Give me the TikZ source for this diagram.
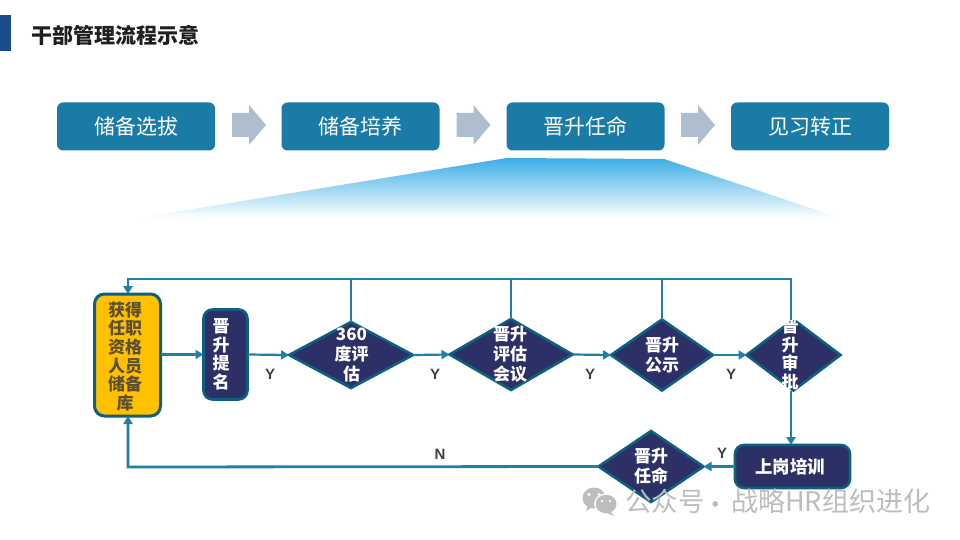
\documentclass[tikz,border=0pt]{standalone}
\usepackage{fontspec}
\setmainfont{Noto Sans CJK SC}
\newfontfamily\latinbold{Liberation Sans}
\usetikzlibrary{shapes.geometric,arrows.meta}
\definecolor{flow}{HTML}{1F7FA8}
\definecolor{edgeb}{HTML}{0F5F7F}
\definecolor{navy}{HTML}{2C3066}
\definecolor{topbox}{HTML}{1A7CA6}
\definecolor{wm}{HTML}{BDBDBD}
\definecolor{arrowgrey}{HTML}{ADBFCF}
\definecolor{pooltext}{HTML}{5C5030}
\tikzset{
  topstage/.style={rectangle,rounded corners=6,fill=topbox,minimum width=158,minimum height=48,inner sep=0,outer sep=0,text=white,font=\fontsize{21}{24}\selectfont},
  dia/.style={diamond,draw=edgeb,fill=navy,line width=2.6,inner sep=0,outer sep=0},
  rbox/.style={rectangle,rounded corners=9,draw=edgeb,fill=navy,line width=2.6,inner sep=0,outer sep=0,text=white,align=center},
  dtext/.style={text=white,align=center,inner sep=0,font=\fontsize{17}{20}\selectfont\bfseries},
  vtext/.style={text=white,align=center,inner sep=0,font=\fontsize{17}{18.5}\selectfont\bfseries},
  flowline/.style={draw=flow,line width=2.2},
  flowarrow/.style={flowline,-{Triangle[length=8,width=9]}},
  ylab/.style={text=black!75,inner sep=0,font=\fontsize{15}{15}\selectfont\latinbold\bfseries},
  wmark/.style={inner sep=0,text=wm,font=\fontsize{26.5}{28}\selectfont},
}
\begin{document}
\begin{tikzpicture}[x=1pt,y=-1pt]
\useasboundingbox (0,0) rectangle (960,540);
\fill[white] (0,0) rectangle (960,540);
\fill[fill={rgb,255:red,27;green,75;blue,138}] (0,15) rectangle (11,51);
\node[inner sep=0,font=\fontsize{21}{24}\selectfont\bfseries,text=black!88] (title) at (115.5,35) {干部管理流程示意};
% top stages
\node[topstage] (s1) at (136,126.5) {储备选拔\hspace{10pt}};
\node[topstage] (s2) at (360.5,126.5) {储备培养};
\node[topstage] (s3) at (585.5,126.5) {晋升任命};
\node[topstage] (s4) at (810,126.5) {见习转正};
\foreach \x in {232,456.5,681}{
  \fill[arrowgrey] (\x,113) -- (\x+17,113) -- (\x+17,105) -- (\x+34,125) -- (\x+17,145) -- (\x+17,137) -- (\x,137) -- cycle;
}
\shade[top color={rgb,255:red,59;green,174;blue,229},bottom color=white] (507,158) -- (664,159) -- (840,218) -- (138,218) -- cycle;
% flow shapes
\node[rectangle,rounded corners=10,draw=edgeb,fill={rgb,255:red,255;green,192;blue,0},line width=3,minimum width=66,minimum height=122,inner sep=0,outer sep=0] (pool) at (127.5,355) {};
\node[inner sep=0,align=center,text=pooltext,font=\fontsize{17}{18.7}\selectfont\bfseries] (poolt) at (125,356.5) {获得\\任职\\资格\\人员\\储备\\库};
\node[rbox,minimum width=44,minimum height=90] (nom) at (225.5,354.5) {};
\node[vtext] (nomt) at (221,354.5) {晋\\升\\提\\名};
\node[dia,minimum width=124,minimum height=66] (d1) at (351,355) {};
\node[dtext] (d1t) at (351.5,355.5) {360\\度评\\估};
\node[dia,minimum width=123,minimum height=71] (d2) at (511,354.5) {};
\node[dtext] (d2t) at (510,354.5) {晋升\\评估\\会议};
\node[dia,minimum width=102,minimum height=71] (d3) at (662,355) {};
\node[dtext] (d3t) at (662,355) {晋升\\公示};
\node[dia,minimum width=94,minimum height=71] (d4) at (793.5,355) {};
\node[vtext] (d4t) at (790,354.5) {晋\\升\\审\\批};
\node[dia,minimum width=105,minimum height=71] (d5) at (651,466.5) {};
\node[dtext] (d5t) at (651,466.5) {晋升\\任命};
\node[rbox,minimum width=115,minimum height=43,font=\fontsize{17.5}{20}\selectfont\bfseries] (train) at (792.5,466.5) {上岗培训\hspace{5pt}};
% connectors
\coordinate (topr) at (791,279);
\coordinate (topl) at (128,279);
\coordinate (botl) at (128,467);
\coordinate (d4t0) at (791,319.5);
\coordinate (d4b0) at (791,390.5);
\draw[flowline,line width=2.8] (d1.north) -- (d1.north |- topr);
\draw[flowline,line width=2.8] (d2.north) -- (d2.north |- topr);
\draw[flowline,line width=2.8] (d3.north) -- (d3.north |- topr);
\draw[flowarrow,line width=2.8] (d4t0) -- (topr) -- (topl) -- (pool.north -| topl);
\draw[flowarrow] (pool.east |- nom.west) -- (nom.west);
\draw[flowarrow] (nom.east) -- (d1.west);
\draw[flowarrow] (d1.east) -- (d2.west);
\draw[flowarrow] (d2.east) -- (d3.west);
\draw[flowarrow] (d3.east) -- (d4.west);
\draw[flowarrow] (d4b0) -- (d4b0 |- train.north);
\draw[flowarrow] (train.west) -- (d5.east);
\draw[flowarrow,line width=2.8] (d5.west) -- (botl) -- (pool.south -| botl);
% labels
\node[ylab] (y1) at (270,374) {Y};
\node[ylab] (y2) at (435,374) {Y};
\node[ylab] (y3) at (590,374) {Y};
\node[ylab] (y4) at (731,374) {Y};
\node[ylab] (y5) at (722,453) {Y};
\node[ylab] (n1) at (440,454) {N};
% watermark
\fill[wm] (594,498) ellipse [x radius=11.5,y radius=10.5];
\fill[wm] (588,505) -- (586,511) -- (594,506) -- cycle;
\fill[white] (589,494.5) circle (1.6) (599,494.5) circle (1.6);
\fill[white] (606,504) ellipse [x radius=12,y radius=10.5];
\fill[wm] (606,504) ellipse [x radius=10.5,y radius=9.2];
\fill[wm] (610,511) -- (614,516) -- (604,512) -- cycle;
\fill[white] (602,501) circle (1.4) (610,501) circle (1.4);
\node[wmark,anchor=west] (wma) at (625,501.5) {公众号};
\node[wmark] (wmb) at (716,508) {·};
\node[wmark,anchor=west,font=\fontsize{27}{28}\selectfont] (wmc) at (731,501.5) {战略HR组织进化};
\end{tikzpicture}
\end{document}
